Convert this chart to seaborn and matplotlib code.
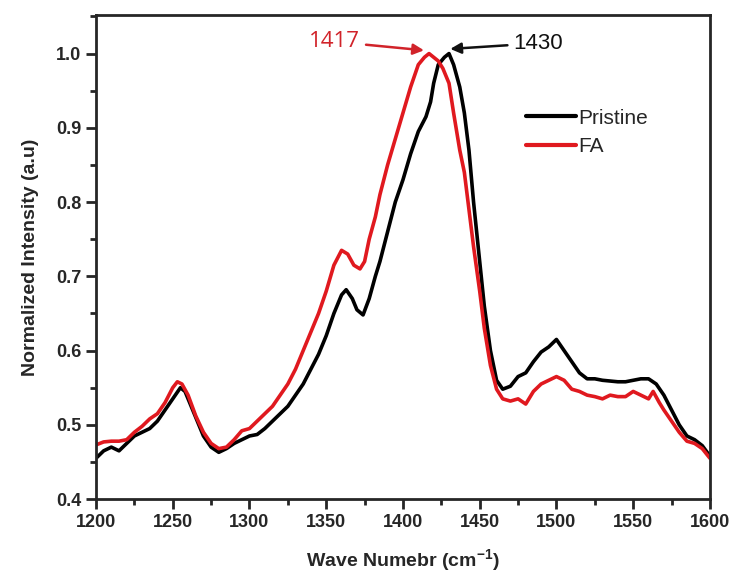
import numpy as np
import pandas as pd
import matplotlib
matplotlib.use("Agg")
import matplotlib.pyplot as plt
import seaborn as sns
from matplotlib.ticker import MultipleLocator

# ================= DATA =================
pristine_x = [1200, 1205, 1210, 1215, 1220, 1225, 1230, 1235, 1240, 1245, 1250, 1255, 1258,
              1260, 1265, 1270, 1275, 1280, 1285, 1290, 1295, 1300, 1305, 1310, 1315, 1320,
              1325, 1330, 1335, 1340, 1345, 1350, 1355, 1360, 1363, 1367, 1370, 1374, 1378,
              1382, 1385, 1390, 1395, 1400, 1405, 1410, 1415, 1418, 1420, 1423, 1427, 1430,
              1433, 1437, 1440, 1443, 1446, 1450, 1453, 1457, 1461, 1465, 1470, 1475, 1480,
              1485, 1490, 1495, 1500, 1505, 1510, 1515, 1520, 1525, 1530, 1535, 1540, 1545,
              1550, 1555, 1560, 1565, 1570, 1575, 1580, 1585, 1590, 1595, 1600]
pristine_y = [0.455, 0.465, 0.470, 0.465, 0.475, 0.485, 0.490, 0.495, 0.505, 0.520, 0.535, 0.550, 0.545,
              0.535, 0.510, 0.485, 0.470, 0.463, 0.468, 0.475, 0.480, 0.485, 0.487, 0.495, 0.505, 0.515,
              0.525, 0.540, 0.555, 0.575, 0.595, 0.620, 0.650, 0.675, 0.682, 0.670, 0.655, 0.648, 0.670,
              0.700, 0.720, 0.760, 0.800, 0.830, 0.865, 0.895, 0.915, 0.935, 0.960, 0.985, 0.995, 1.000,
              0.985, 0.955, 0.920, 0.870, 0.800, 0.720, 0.660, 0.600, 0.560, 0.548, 0.552, 0.565, 0.570,
              0.585, 0.598, 0.605, 0.615, 0.600, 0.585, 0.570, 0.562, 0.562, 0.560, 0.559, 0.558, 0.558,
              0.560, 0.562, 0.562, 0.555, 0.540, 0.520, 0.500, 0.485, 0.480, 0.472, 0.458]

fa_x = [1200, 1205, 1210, 1215, 1220, 1225, 1230, 1235, 1240, 1245, 1250, 1253, 1256, 1260,
        1265, 1270, 1275, 1280, 1285, 1290, 1295, 1300, 1305, 1310, 1315, 1320, 1325, 1330,
        1335, 1340, 1345, 1350, 1355, 1360, 1364, 1368, 1372, 1375, 1378, 1382, 1385, 1390,
        1395, 1400, 1405, 1410, 1414, 1417, 1420, 1423, 1426, 1430, 1433, 1437, 1440, 1443,
        1446, 1450, 1453, 1457, 1461, 1465, 1470, 1475, 1480, 1485, 1490, 1495, 1500, 1505,
        1510, 1515, 1520, 1525, 1530, 1535, 1540, 1545, 1550, 1555, 1560, 1563, 1567, 1570,
        1575, 1580, 1585, 1590, 1595, 1600]
fa_y = [0.473, 0.477, 0.478, 0.478, 0.480, 0.490, 0.498, 0.508, 0.515, 0.530, 0.550, 0.558, 0.555, 0.540,
        0.512, 0.490, 0.475, 0.468, 0.470, 0.480, 0.492, 0.495, 0.505, 0.515, 0.525, 0.540, 0.555, 0.575,
        0.600, 0.625, 0.650, 0.680, 0.715, 0.735, 0.730, 0.715, 0.710, 0.720, 0.750, 0.780, 0.810, 0.850,
        0.885, 0.920, 0.955, 0.985, 0.995, 1.000, 0.995, 0.990, 0.980, 0.960, 0.920, 0.870, 0.840, 0.790,
        0.740, 0.680, 0.630, 0.580, 0.548, 0.535, 0.532, 0.535, 0.528, 0.545, 0.555, 0.560, 0.565, 0.560,
        0.548, 0.545, 0.540, 0.538, 0.535, 0.540, 0.538, 0.538, 0.545, 0.540, 0.535, 0.545, 0.530, 0.520,
        0.505, 0.490, 0.478, 0.475, 0.468, 0.455]

series_names = ["Pristine", "FA"]
peak_labels = ["1417", "1430"]

# ================= FRAME =================
df = pd.concat([
    pd.DataFrame({"wave": pristine_x, "intensity": pristine_y, "sample": series_names[0]}),
    pd.DataFrame({"wave": fa_x, "intensity": fa_y, "sample": series_names[1]}),
])

# ================= PLOT =================
sns.set_style("ticks")
plt.rcParams["font.family"] = ["Liberation Sans", "DejaVu Sans"]

fig = plt.figure(figsize=(7.3, 5.75), dpi=100)
ax = fig.add_axes([0.1315, 0.132, 0.841, 0.842])

sns.lineplot(data=df, x="wave", y="intensity", hue="sample",
             palette={"Pristine": "#000000", "FA": "#e0191f"},
             linewidth=2.6, ax=ax, sort=False)

ax.set_xlim(1200, 1600)
ax.set_ylim(0.4, 1.052)
ax.xaxis.set_major_locator(MultipleLocator(50))
ax.xaxis.set_minor_locator(MultipleLocator(25))
ax.yaxis.set_major_locator(MultipleLocator(0.1))
ax.yaxis.set_minor_locator(MultipleLocator(0.05))
ax.yaxis.set_major_formatter(matplotlib.ticker.FormatStrFormatter("%.1f"))

for s in ax.spines.values():
    s.set_linewidth(2.0)
    s.set_visible(True)
ax.tick_params(which="major", direction="out", length=7, width=2, labelsize=13)
ax.tick_params(which="minor", direction="out", length=4, width=2)
for lab in ax.get_xticklabels() + ax.get_yticklabels():
    lab.set_fontweight("bold")

ax.set_xlabel("Wave Numebr (cm$^{\\mathregular{-1}}$)", fontsize=14, fontweight="bold", labelpad=12)
ax.set_ylabel("Normalized Intensity (a.u)", fontsize=14, fontweight="bold", labelpad=12)

leg = ax.legend(loc="upper left", bbox_to_anchor=(0.67, 0.845), frameon=False,
                fontsize=15, handlelength=2.4, handletextpad=0.1, labelspacing=0.45)
for line in leg.get_lines():
    line.set_linewidth(3)

# peak annotations
ax.annotate(peak_labels[0], xy=(1415.5, 1.004), xytext=(1372, 1.016),
            color="#d1232a", fontsize=16, fontfamily=["Open Sans", "DejaVu Sans"],
            ha="right", va="center",
            arrowprops=dict(arrowstyle="-|>", color="#d1232a", lw=1.8, mutation_scale=16))
ax.annotate(peak_labels[1], xy=(1429, 1.006), xytext=(1472, 1.028),
            color="#111111", fontsize=16, fontfamily=["Liberation Sans", "DejaVu Sans"],
            ha="left", va="top",
            arrowprops=dict(arrowstyle="-|>", color="#111111", lw=1.8, mutation_scale=16))

fig.savefig("out.png", dpi=100)
